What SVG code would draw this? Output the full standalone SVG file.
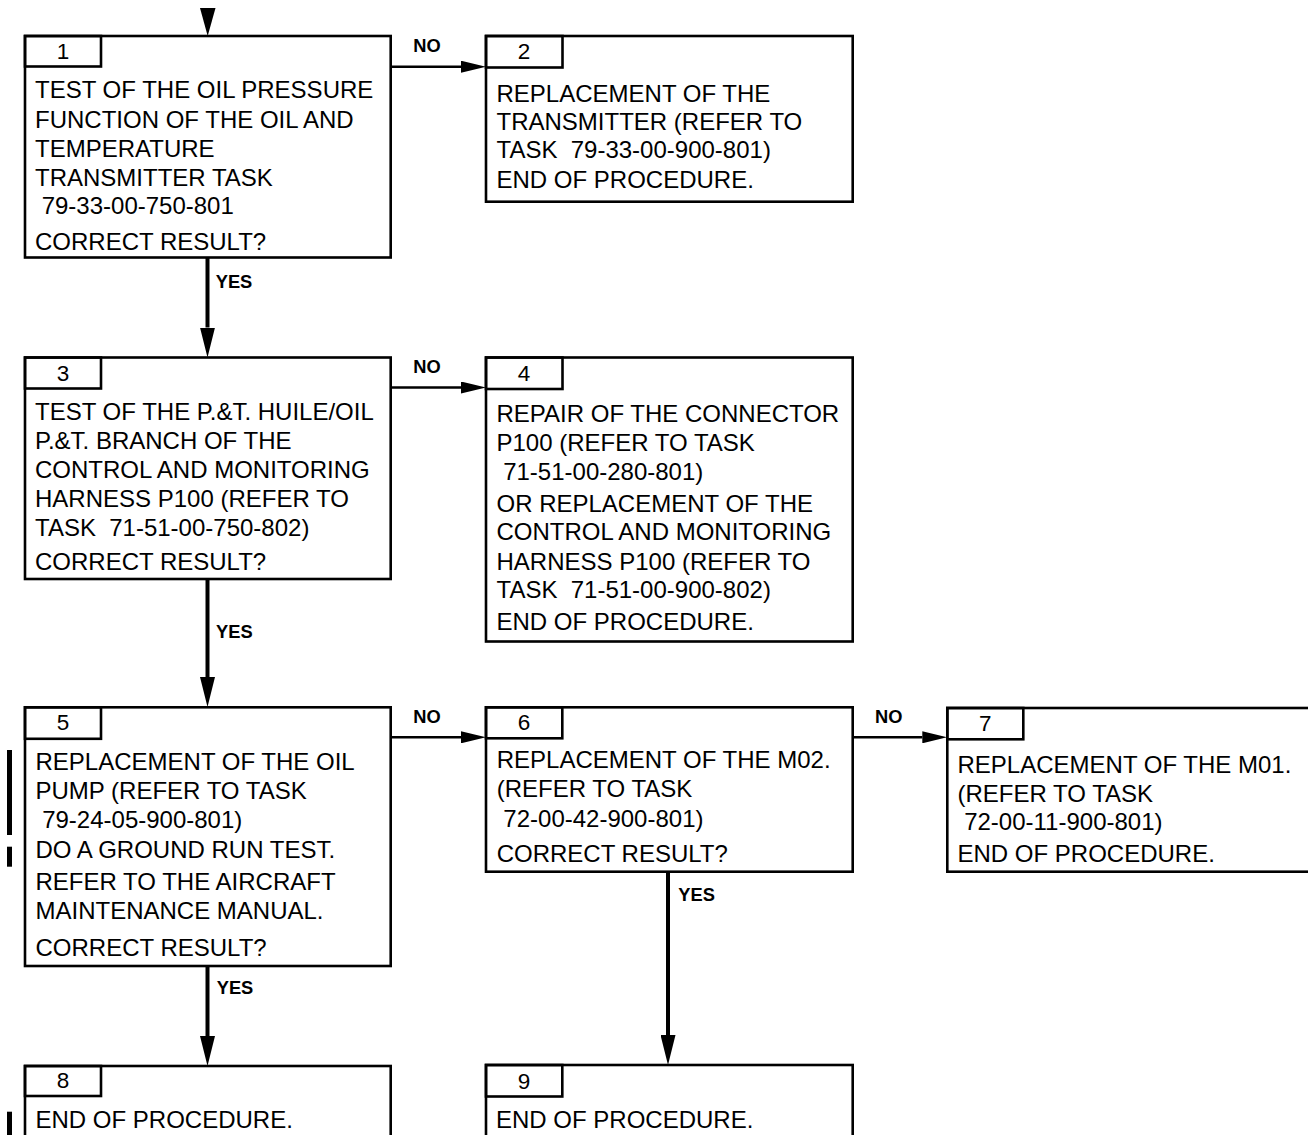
<svg xmlns="http://www.w3.org/2000/svg" width="1308" height="1135" viewBox="0 0 1308 1135">
<style>
.box{fill:#fff;stroke:#000;stroke-width:2.6}
.tab{fill:none;stroke:#000;stroke-width:2.6}
.t{font-family:"Liberation Sans",Arial,sans-serif;font-size:24px;fill:#000;white-space:pre}
.num{font-family:"Liberation Sans",Arial,sans-serif;font-size:22.5px;fill:#000;text-anchor:middle}
.lbl{font-family:"Liberation Sans",Arial,sans-serif;font-size:18.3px;font-weight:bold;fill:#000}
.v{stroke:#000;stroke-width:4;fill:none}
.h{stroke:#000;stroke-width:2.5;fill:none}
.bar{fill:#000}
</style>
<defs>
<marker id="aV" markerUnits="userSpaceOnUse" viewBox="0 0 30 15" markerWidth="30" markerHeight="15" refX="0" refY="7.5" orient="auto"><path d="M0,0 L30,7.5 L0,15 z" fill="#000"/></marker>
<marker id="aH" markerUnits="userSpaceOnUse" viewBox="0 0 25 12" markerWidth="25" markerHeight="12" refX="0" refY="6" orient="auto"><path d="M0,0 L25,6 L0,12 z" fill="#000"/></marker>
</defs>

<g id="connectors">
<polygon points="200,8 215.5,8 207.7,36" fill="#000"/>
<line class="v" x1="207.5" y1="257.5" x2="207.5" y2="327.5" marker-end="url(#aV)"/>
<line class="v" x1="207.5" y1="579" x2="207.5" y2="677" marker-end="url(#aV)"/>
<line class="v" x1="207.5" y1="966" x2="207.5" y2="1036" marker-end="url(#aV)"/>
<line class="v" x1="668" y1="871.7" x2="668" y2="1035" marker-end="url(#aV)"/>
<line class="h" x1="390.7" y1="66.7" x2="461" y2="66.7" marker-end="url(#aH)"/>
<line class="h" x1="390.7" y1="387.5" x2="461" y2="387.5" marker-end="url(#aH)"/>
<line class="h" x1="390.7" y1="737.3" x2="461" y2="737.3" marker-end="url(#aH)"/>
<line class="h" x1="852.7" y1="737.3" x2="922.3" y2="737.3" marker-end="url(#aH)"/>
<text class="lbl" x="413.3" y="52.3">NO</text>
<text class="lbl" x="413.3" y="372.7">NO</text>
<text class="lbl" x="413.3" y="723.3">NO</text>
<text class="lbl" x="875" y="723.3">NO</text>
<text class="lbl" x="215.7" y="287.7">YES</text>
<text class="lbl" x="216" y="637.5">YES</text>
<text class="lbl" x="216.7" y="994.3">YES</text>
<text class="lbl" x="678.3" y="900.7">YES</text>
</g>

<g id="node1">
<rect class="box" x="25" y="36" width="365.7" height="221.5"/>
<rect class="tab" x="25" y="36" width="76" height="30.5"/>
<text class="num" x="63" y="58.8">1</text>
<text class="t" x="35" y="98.3">TEST OF THE OIL PRESSURE</text>
<text class="t" x="35" y="127.7">FUNCTION OF THE OIL AND</text>
<text class="t" x="35" y="156.7">TEMPERATURE</text>
<text class="t" x="35" y="185.7">TRANSMITTER TASK</text>
<text class="t" x="35" y="214.3" xml:space="preserve"> 79-33-00-750-801</text>
<text class="t" x="35" y="250">CORRECT RESULT?</text>
</g>

<g id="node2">
<rect class="box" x="486" y="36" width="366.7" height="165.7"/>
<rect class="tab" x="486" y="36" width="76.5" height="31.5"/>
<text class="num" x="524" y="59">2</text>
<text class="t" x="496.5" y="101.7">REPLACEMENT OF THE</text>
<text class="t" x="496.5" y="130">TRANSMITTER (REFER TO</text>
<text class="t" x="496.5" y="158.3" xml:space="preserve">TASK  79-33-00-900-801)</text>
<text class="t" x="496.5" y="188.3">END OF PROCEDURE.</text>
</g>

<g id="node3">
<rect class="box" x="25" y="357.5" width="365.7" height="221.5"/>
<rect class="tab" x="25" y="357.5" width="76" height="31"/>
<text class="num" x="63" y="380.5">3</text>
<text class="t" x="35" y="419.5">TEST OF THE P.&amp;T. HUILE/OIL</text>
<text class="t" x="35" y="448.5">P.&amp;T. BRANCH OF THE</text>
<text class="t" x="35" y="477.5">CONTROL AND MONITORING</text>
<text class="t" x="35" y="506.5">HARNESS P100 (REFER TO</text>
<text class="t" x="35" y="535.5" xml:space="preserve">TASK  71-51-00-750-802)</text>
<text class="t" x="35" y="570">CORRECT RESULT?</text>
</g>

<g id="node4">
<rect class="box" x="486" y="357.5" width="366.7" height="284"/>
<rect class="tab" x="486" y="357.5" width="76.5" height="31.5"/>
<text class="num" x="524" y="380.5">4</text>
<text class="t" x="496.5" y="421.7">REPAIR OF THE CONNECTOR</text>
<text class="t" x="496.5" y="451">P100 (REFER TO TASK</text>
<text class="t" x="496.5" y="480" xml:space="preserve"> 71-51-00-280-801)</text>
<text class="t" x="496.5" y="511.7">OR REPLACEMENT OF THE</text>
<text class="t" x="496.5" y="540">CONTROL AND MONITORING</text>
<text class="t" x="496.5" y="570">HARNESS P100 (REFER TO</text>
<text class="t" x="496.5" y="598.3" xml:space="preserve">TASK  71-51-00-900-802)</text>
<text class="t" x="496.5" y="630">END OF PROCEDURE.</text>
</g>

<g id="node5">
<rect class="box" x="25" y="707.3" width="365.7" height="258.7"/>
<rect class="tab" x="25" y="707.3" width="76" height="31.5"/>
<text class="num" x="63" y="730">5</text>
<text class="t" x="35.5" y="770">REPLACEMENT OF THE OIL</text>
<text class="t" x="35.5" y="799.3">PUMP (REFER TO TASK</text>
<text class="t" x="35.5" y="828.3" xml:space="preserve"> 79-24-05-900-801)</text>
<text class="t" x="35.5" y="858.3">DO A GROUND RUN TEST.</text>
<text class="t" x="35.5" y="890">REFER TO THE AIRCRAFT</text>
<text class="t" x="35.5" y="919.3">MAINTENANCE MANUAL.</text>
<text class="t" x="35.5" y="956">CORRECT RESULT?</text>
</g>

<g id="node6">
<rect class="box" x="486" y="707.3" width="366.7" height="164.4"/>
<rect class="tab" x="486" y="707.3" width="76.3" height="31"/>
<text class="num" x="524" y="729.8">6</text>
<text class="t" x="496.7" y="768.3">REPLACEMENT OF THE M02.</text>
<text class="t" x="496.7" y="797.3">(REFER TO TASK</text>
<text class="t" x="496.7" y="826.7" xml:space="preserve"> 72-00-42-900-801)</text>
<text class="t" x="496.7" y="861.7">CORRECT RESULT?</text>
</g>

<g id="node7">
<rect class="box" x="947.3" y="708" width="366.7" height="163.7"/>
<rect class="tab" x="947.3" y="708" width="76" height="31.3"/>
<text class="num" x="985.3" y="730.8">7</text>
<text class="t" x="957.5" y="773.3">REPLACEMENT OF THE M01.</text>
<text class="t" x="957.5" y="801.7">(REFER TO TASK</text>
<text class="t" x="957.5" y="830" xml:space="preserve"> 72-00-11-900-801)</text>
<text class="t" x="957.5" y="861.7">END OF PROCEDURE.</text>
</g>

<g id="node8">
<rect class="box" x="25" y="1066" width="365.7" height="80"/>
<rect class="tab" x="25" y="1066" width="76" height="30"/>
<text class="num" x="63" y="1088.2">8</text>
<text class="t" x="35.5" y="1127.5">END OF PROCEDURE.</text>
</g>

<g id="node9">
<rect class="box" x="486" y="1065" width="366.7" height="80"/>
<rect class="tab" x="486" y="1065" width="76.3" height="31.5"/>
<text class="num" x="524" y="1088.5">9</text>
<text class="t" x="496" y="1128">END OF PROCEDURE.</text>
</g>

<g id="change-bars">
<rect class="bar" x="7" y="750" width="5" height="85"/>
<rect class="bar" x="7" y="846.7" width="5" height="20"/>
<rect class="bar" x="7" y="1111.7" width="5" height="30"/>
</g>
</svg>
